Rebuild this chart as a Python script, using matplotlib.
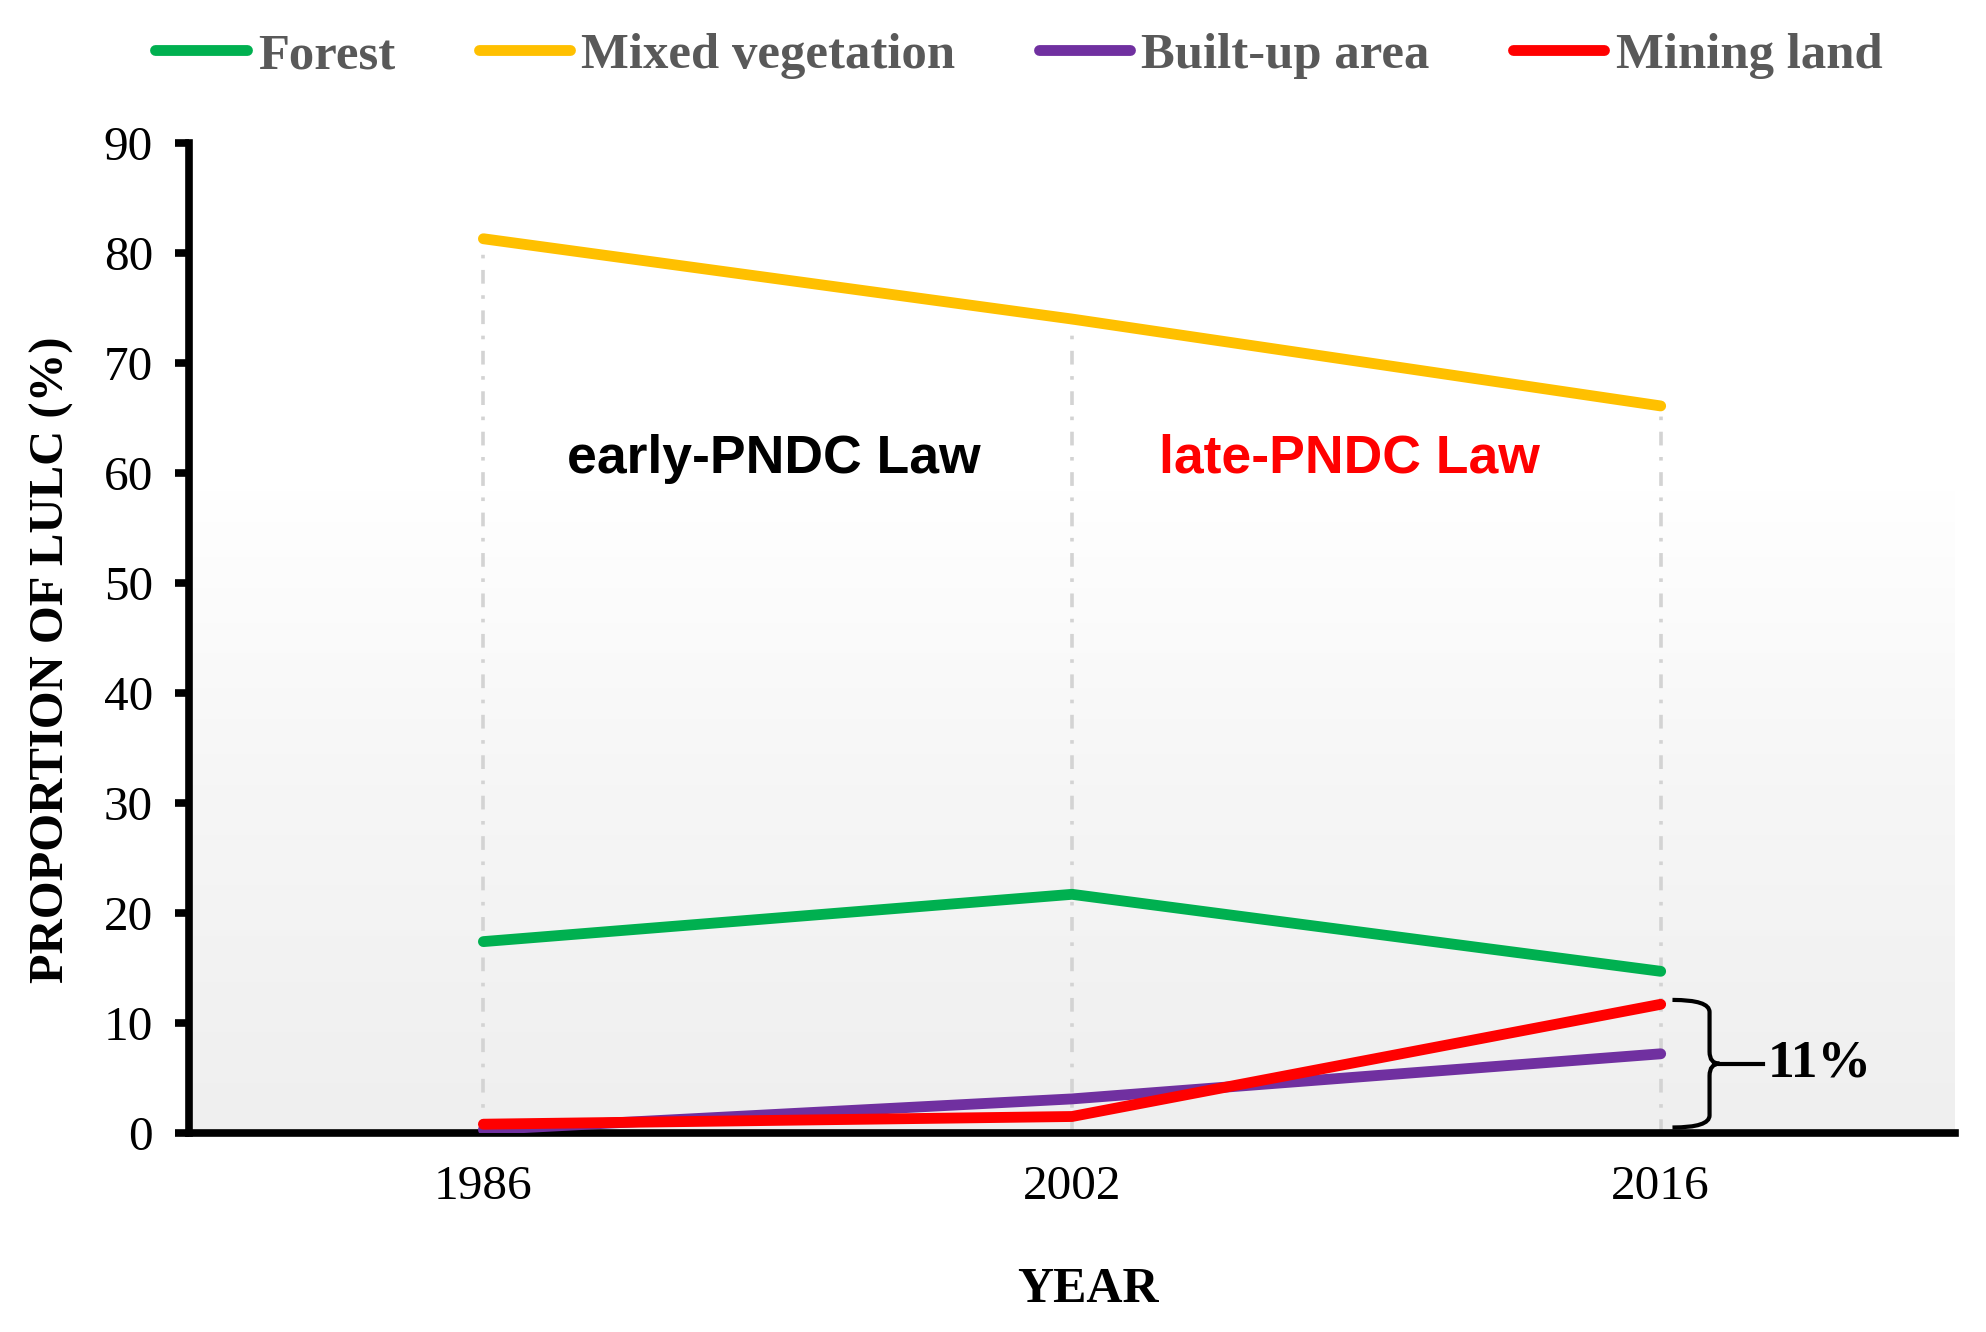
import numpy as np
import matplotlib
matplotlib.use('Agg')
import matplotlib.pyplot as plt
from matplotlib.path import Path
from matplotlib.patches import PathPatch
from matplotlib.colors import LinearSegmentedColormap

years = ['1986', '2002', '2016']
forest = [17.4, 21.7, 14.7]
mixed = [81.3, 74.0, 66.1]
built = [0.3, 3.1, 7.2]
mining = [0.8, 1.5, 11.7]

series = [('Forest', forest, '#00b050'),
          ('Mixed vegetation', mixed, '#ffc000'),
          ('Built-up area', built, '#7030a0'),
          ('Mining land', mining, '#ff0000')]

serif = 'Liberation Serif'
sans = 'Liberation Sans'

fig = plt.figure(figsize=(19.86, 13.32), dpi=100)
ax = fig.add_axes([0.0952, 0.1494, 0.8892, 0.7432])
x = np.arange(len(years))
xlim = (-0.5, 2.5)

# background gradient, white on top, light grey at the bottom
cmap = LinearSegmentedColormap.from_list('bg', [(0, '#efefef'), (0.35, '#f6f6f6'), (0.65, '#ffffff'), (1, '#ffffff')])
grad = np.linspace(1, 0, 256).reshape(-1, 1)
ax.imshow(grad, cmap=cmap, aspect='auto', extent=[xlim[0], xlim[1], 0, 90], zorder=0, vmin=0, vmax=1)

# dash-dot guides up to the mixed vegetation line
for i in x:
    ax.plot([i, i], [0, mixed[i]], color='#d3d3d3', lw=2.6,
            linestyle=(0, (3.8, 3.2, 1, 3.2)), zorder=1)

handles = []
for name, vals, col in series:
    h, = ax.plot(x, vals, color=col, lw=7.8, solid_capstyle='round', label=name, zorder=3)
    handles.append(h)

ax.set_xlim(*xlim)
ax.set_ylim(0, 90)
ax.set_yticks(range(0, 91, 10))
ax.set_xticks(x)
ax.set_xticklabels(years)
for s in ['top', 'right']:
    ax.spines[s].set_visible(False)
for s in ['left', 'bottom']:
    ax.spines[s].set_linewidth(5.5)
ax.tick_params(axis='y', length=10, width=5.5, pad=16, labelsize=35.5)
ax.tick_params(axis='x', length=0, pad=23, labelsize=35.5)
for lab in ax.get_xticklabels() + ax.get_yticklabels():
    lab.set_fontfamily(serif)

ax.set_ylabel('PROPORTION OF LULC (%)', fontsize=35, fontweight='bold', family=serif)
ax.yaxis.set_label_coords(-0.065, 0.478)
ax.set_xlabel('YEAR', fontsize=36, fontweight='bold', family=serif)
ax.xaxis.set_label_coords(0.509, -0.135)

ax.text(0.493, 61.3, 'early-PNDC Law', fontsize=38.5, fontweight='bold', family=sans,
        color='black', ha='center', va='center', zorder=4)
ax.text(1.471, 61.3, 'late-PNDC Law', fontsize=38.5, fontweight='bold', family=sans,
        color='#ff0000', ha='center', va='center', zorder=4)

# curly brace for the mining share in 2016
top, bot = mining[2] + 0.4, 0.5
mid = (top + bot) / 2
x0, xb, xt, xs = 2.02, 2.083, 2.1, 2.174
verts = [(x0, top), (xb, top), (xb, top - 1.1),
         (xb, mid + 1.1), (xb, mid), (xt, mid),
         (xb, mid), (xb, mid - 1.1),
         (xb, bot + 1.1), (xb, bot), (x0, bot)]
codes = [Path.MOVETO, Path.CURVE3, Path.CURVE3,
         Path.LINETO, Path.CURVE3, Path.CURVE3,
         Path.CURVE3, Path.CURVE3,
         Path.LINETO, Path.CURVE3, Path.CURVE3]
ax.add_patch(PathPatch(Path(verts, codes), fill=False, lw=3, color='black', zorder=4, clip_on=False))
ax.plot([xt, xs], [mid, mid], color='black', lw=3, zorder=4)
ax.text(xs + 0.008, mid, '11%', fontsize=38.5, fontweight='bold', family=serif,
        ha='left', va='center', zorder=4)

leg = fig.legend(handles=handles, loc='center', bbox_to_anchor=(0.513, 0.958), ncol=4,
                 frameon=False, handlelength=1.8, handletextpad=0.22, columnspacing=1.65,
                 prop={'family': serif, 'weight': 'bold', 'size': 36.5})
for t in leg.get_texts():
    t.set_color('#595959')

fig.savefig('out.png', dpi=100)
